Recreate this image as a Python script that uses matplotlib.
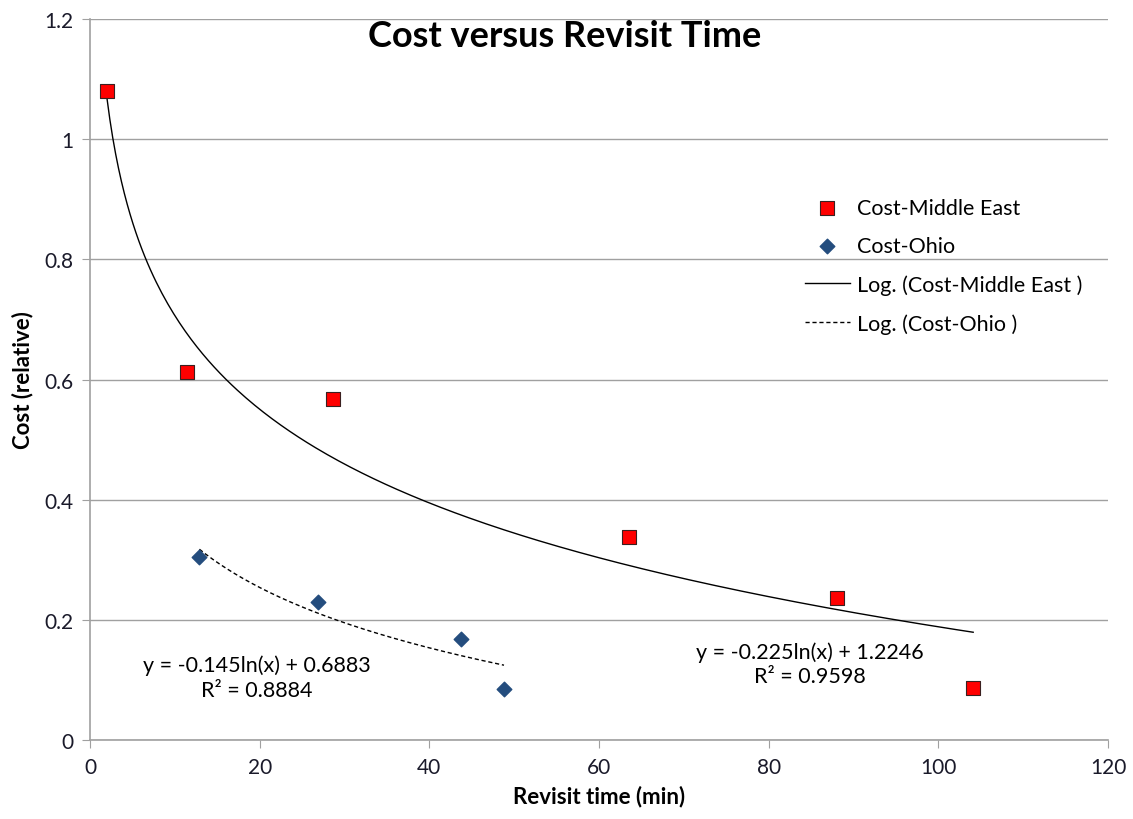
import matplotlib
matplotlib.use("Agg")
import matplotlib.pyplot as plt
import numpy as np

plt.rcParams['font.family'] = ['Lato', 'DejaVu Sans']

me_x = [2, 11.4, 28.6, 63.5, 88.0, 104.1]
me_y = [1.080, 0.612, 0.568, 0.338, 0.236, 0.087]
oh_x = [12.9, 26.9, 43.7, 48.8]
oh_y = [0.304, 0.229, 0.168, 0.085]
me_a, me_b = -0.225, 1.2246
oh_a, oh_b = -0.145, 0.6883
me_eq = "y = -0.225ln(x) + 1.2246\nR² = 0.9598"
oh_eq = "y = -0.145ln(x) + 0.6883\nR² = 0.8884"

fig = plt.figure(figsize=(11.33, 8.2), dpi=100)
ax = fig.add_axes([0.0794, 0.0963, 0.8986, 0.8793])

ax.set_xlim(0, 120)
ax.set_ylim(0, 1.2)
ax.set_xticks(np.arange(0, 121, 20))
ax.set_yticks([0, 0.2, 0.4, 0.6, 0.8, 1.0, 1.2])
ax.set_yticklabels(['0', '0.2', '0.4', '0.6', '0.8', '1', '1.2'])
ax.grid(axis='y', color='#a0a0a0', linewidth=1)
ax.set_axisbelow(True)
for s in ['top', 'right']:
    ax.spines[s].set_visible(False)
for s in ['left', 'bottom']:
    ax.spines[s].set_color('#a0a0a0')
    ax.spines[s].set_linewidth(1.2)
ax.tick_params(direction='out', length=6, color='#a0a0a0', labelsize=15, pad=6, labelcolor='#1a1a2a')

xs = np.linspace(min(me_x), max(me_x), 300)
ax.plot(xs, me_a * np.log(xs) + me_b, color='black', linewidth=1, label='Log. (Cost-Middle East )', zorder=2)
xo = np.linspace(min(oh_x), max(oh_x), 300)
ax.plot(xo, oh_a * np.log(xo) + oh_b, color='black', linewidth=1, linestyle=(0, (3, 2)), label='Log. (Cost-Ohio )', zorder=2)

ax.scatter(me_x, me_y, marker='s', s=110, color='#ff0000', edgecolors='#3a2020', linewidths=0.8, label='Cost-Middle East', zorder=3)
ax.scatter(oh_x, oh_y, marker='D', s=55, color='#244d7e', edgecolors='#244d7e', label='Cost-Ohio', zorder=3)

ax.set_xlabel('Revisit time (min)', fontsize=16, fontweight='bold', labelpad=6)
ax.set_ylabel('Cost (relative)', fontsize=16, fontweight='bold', labelpad=8)

fig.text(0.498, 0.956, 'Cost versus Revisit Time', fontsize=26, fontweight='bold', ha='center', va='center')

ax.text(84.8, 0.127, me_eq, ha='center', va='center', fontsize=15.5, linespacing=1.3)
ax.text(19.7, 0.105, oh_eq, ha='center', va='center', fontsize=15.5, linespacing=1.3)

h, l = ax.get_legend_handles_labels()
order = [2, 3, 0, 1]
leg = ax.legend([h[i] for i in order], [l[i] for i in order], loc='center left',
                bbox_to_anchor=(0.702, 0.658), frameon=False, fontsize=15.5,
                labelspacing=0.85, handlelength=2.1, handletextpad=0.35,
                borderpad=0, borderaxespad=0)

fig.savefig('out.png', dpi=100)
